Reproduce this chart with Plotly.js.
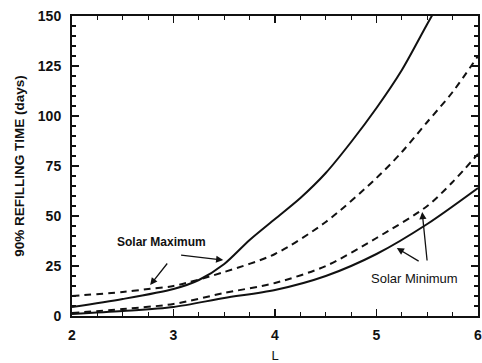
<!DOCTYPE html>
<html>
<head>
<meta charset="utf-8">
<script src="https://cdn.plot.ly/plotly-3.0.1.min.js"></script>
<style>html,body{margin:0;padding:0;background:#fff;}#chart{width:482px;height:363px;}</style>
</head>
<body>
<div id="chart"></div>
<script>
// Solar maximum, solid curve
const maxSolidL = [2.0, 2.5, 3.0, 3.25, 3.5, 3.75, 4.0, 4.25, 4.5, 4.75, 5.0, 5.25, 5.5, 5.6];
const maxSolidT = [4.5, 8.5, 13.5, 18, 26, 38, 48.5, 59, 71.5, 87, 104, 123, 146, 155];
// Solar maximum, dashed curve
const maxDashL = [2.0, 2.5, 2.75, 3.0, 3.5, 4.0, 4.5, 5.0, 5.25, 5.5, 5.75, 6.0];
const maxDashT = [10, 12, 13.5, 15, 22, 31, 47, 69, 82, 97, 112, 130];
// Solar minimum, solid curve
const minSolidL = [2.0, 2.5, 3.0, 3.5, 4.0, 4.5, 5.0, 5.5, 6.0];
const minSolidT = [1, 2.5, 4.5, 9, 13, 20, 31, 46, 64];
// Solar minimum, dashed curve
const minDashL = [2.0, 2.5, 3.0, 3.5, 4.0, 4.5, 5.0, 5.5, 5.75, 6.0];
const minDashT = [1.5, 3.5, 6, 11.5, 16.5, 25, 39, 55, 67, 81];

const xTicks = [2, 3, 4, 5, 6];
const yTicks = [0, 25, 50, 75, 100, 125, 150];

const ink = '#111';
const solid = {color: ink, width: 2, shape: 'spline', smoothing: 0.8};
const dashed = {color: ink, width: 2, dash: '7px,5px', shape: 'spline', smoothing: 0.8};

const traces = [
  {x: maxSolidL, y: maxSolidT, mode: 'lines', line: solid},
  {x: maxDashL, y: maxDashT, mode: 'lines', line: dashed},
  {x: minSolidL, y: minSolidT, mode: 'lines', line: solid},
  {x: minDashL, y: minDashT, mode: 'lines', line: dashed}
];

const fam = 'Liberation Sans, Arial, sans-serif';
const arrowCommon = {showarrow: true, arrowhead: 2, arrowsize: 1.1, arrowwidth: 1.3, arrowcolor: ink,
  axref: 'x', ayref: 'y', text: ''};

const layout = {
  width: 482, height: 363,
  margin: {l: 72, r: 4, t: 16, b: 47},
  paper_bgcolor: '#fff', plot_bgcolor: '#fff',
  showlegend: false,
  font: {family: fam, color: ink},
  xaxis: {
    range: [2, 6], tickvals: xTicks, ticktext: xTicks.map(String),
    ticks: 'inside', ticklen: 7, tickwidth: 1.5, tickcolor: ink,
    showline: true, linecolor: ink, linewidth: 2, mirror: 'ticks',
    showgrid: false, zeroline: false, ticklabelstandoff: 5, ticklabeloverflow: 'allow',
    tickfont: {family: fam, size: 14, color: ink, weight: 'bold'},
    minor: {tick0: 2, dtick: 0.25, ticks: 'inside', ticklen: 4, tickwidth: 1.2, tickcolor: ink, showgrid: false},
    title: {text: 'L', font: {family: fam, size: 13, color: ink}, standoff: 12}
  },
  yaxis: {
    range: [0, 150], tickvals: yTicks, ticktext: yTicks.map(String),
    ticks: 'inside', ticklen: 7, tickwidth: 1.5, tickcolor: ink,
    showline: true, linecolor: ink, linewidth: 2, mirror: 'ticks',
    showgrid: false, zeroline: false, ticklabelstandoff: 6, ticklabeloverflow: 'allow',
    tickfont: {family: fam, size: 14, color: ink, weight: 'bold'},
    minor: {tick0: 0, dtick: 5, ticks: 'inside', ticklen: 4, tickwidth: 1.2, tickcolor: ink, showgrid: false},
    title: {text: '90% REFILLING TIME (days)', font: {family: fam, size: 13.5, color: ink, weight: 'bold'}, standoff: 10}
  },
  annotations: [
    {x: 2.88, y: 37, xref: 'x', yref: 'y', text: 'Solar Maximum', showarrow: false,
     font: {family: fam, size: 12, color: ink, weight: 'bold'}},
    {x: 5.37, y: 19, xref: 'x', yref: 'y', text: 'Solar Minimum', showarrow: false,
     font: {family: fam, size: 13, color: ink}},
    Object.assign({x: 2.77, y: 15.5, ax: 2.95, ay: 27, xref: 'x', yref: 'y'}, arrowCommon),
    Object.assign({x: 3.49, y: 28, ax: 3.06, ay: 30.5, xref: 'x', yref: 'y'}, arrowCommon),
    Object.assign({x: 5.2, y: 34, ax: 5.43, ay: 27, xref: 'x', yref: 'y'}, arrowCommon),
    Object.assign({x: 5.45, y: 52, ax: 5.5, ay: 27, xref: 'x', yref: 'y'}, arrowCommon)
  ]
};

Plotly.newPlot('chart', traces, layout, {staticPlot: true, displayModeBar: false});
</script>
</body>
</html>
